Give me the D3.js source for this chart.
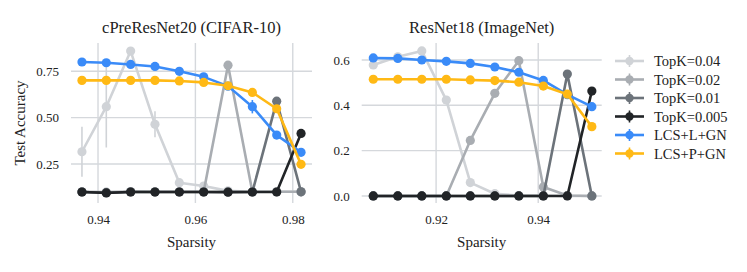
<!DOCTYPE html>
<html>
<head>
<meta charset="utf-8">
<script src="https://cdn.jsdelivr.net/npm/d3@7"></script>
<style>
  body { margin: 0; background: #fff; }
  svg text { font-family: "Liberation Serif", "Times New Roman", "DejaVu Serif", serif; fill: #222; }
</style>
</head>
<body>
<div id="chart"></div>
<script>
var FONT = '"Liberation Serif", "Times New Roman", serif';

// series names + colours
var seriesNames = ["TopK=0.04", "TopK=0.02", "TopK=0.01", "TopK=0.005", "LCS+L+GN", "LCS+P+GN"];
var seriesColors = ["#d0d3d7", "#a9adb2", "#6c737a", "#212427", "#3a8bf8", "#ffb915"];

// left panel: cPreResNet20 (CIFAR-10)
var cifarSparsity = [0.9367, 0.9417, 0.9467, 0.9517, 0.9567, 0.9617, 0.9667, 0.9717, 0.9767, 0.9817];
var cifarValues = [
  [0.316, 0.559, 0.859, 0.464, 0.149, 0.131, 0.105, 0.100, 0.100, 0.100],
  [0.100, 0.098, 0.101, 0.100, 0.100, 0.100, 0.783, 0.100, 0.100, 0.100],
  [0.099, 0.095, 0.099, 0.099, 0.099, 0.099, 0.099, 0.099, 0.589, 0.100],
  [0.099, 0.094, 0.099, 0.099, 0.099, 0.099, 0.098, 0.099, 0.099, 0.415],
  [0.800, 0.796, 0.787, 0.776, 0.750, 0.720, 0.670, 0.559, 0.406, 0.313],
  [0.701, 0.701, 0.701, 0.701, 0.698, 0.690, 0.672, 0.636, 0.548, 0.248]
];
var cifarErrors = [
  [0.135, 0.22, 0.01, 0.07, 0.01, 0, 0, 0, 0, 0],
  [0, 0, 0, 0, 0, 0, 0, 0, 0, 0],
  [0, 0, 0, 0, 0, 0, 0, 0, 0, 0],
  [0, 0, 0, 0, 0, 0, 0, 0, 0, 0],
  [0, 0, 0, 0, 0, 0, 0.01, 0.036, 0.01, 0.01],
  [0, 0, 0, 0, 0, 0, 0, 0.005, 0.01, 0.01]
];
var cifarXTicks = [0.94, 0.96, 0.98];
var cifarYTicks = [0.25, 0.50, 0.75];

// right panel: ResNet18 (ImageNet)
var imagenetSparsity = [0.9077, 0.9125, 0.9172, 0.9220, 0.9267, 0.9315, 0.9362, 0.9410, 0.9457, 0.9505];
var imagenetValues = [
  [0.578, 0.614, 0.640, 0.423, 0.059, 0.010, 0.002, 0.002, 0.000, 0.000],
  [0.000, 0.000, 0.000, 0.000, 0.245, 0.453, 0.597, 0.040, 0.002, 0.000],
  [0.000, 0.000, 0.000, 0.000, 0.000, 0.000, 0.000, 0.000, 0.538, 0.000],
  [0.000, 0.000, 0.000, 0.000, 0.000, 0.000, 0.000, 0.000, 0.000, 0.463],
  [0.609, 0.607, 0.600, 0.594, 0.585, 0.569, 0.546, 0.510, 0.447, 0.394],
  [0.515, 0.515, 0.515, 0.515, 0.512, 0.509, 0.502, 0.485, 0.449, 0.306]
];
var imagenetXTicks = [0.92, 0.94];
var imagenetYTicks = [0.0, 0.2, 0.4, 0.6];

var width = 747, height = 272;

var svg = d3.select("#chart")
  .append("svg")
  .attr("width", width)
  .attr("height", height);

function drawPanel(opts) {
  var xScale = d3.scaleLinear().domain(opts.xDomain).range([opts.left, opts.right]);
  var yScale = d3.scaleLinear().domain(opts.yDomain).range([opts.bottom, opts.top]);
  var g = svg.append("g");

  // grid
  g.selectAll(".vgrid")
    .data(opts.xTicks)
    .enter()
    .append("line")
    .attr("x1", d => xScale(d)).attr("x2", d => xScale(d))
    .attr("y1", opts.top).attr("y2", opts.bottom)
    .attr("stroke", "#d5d8dc").attr("stroke-width", 1.4);

  g.selectAll(".hgrid")
    .data(opts.yTicks)
    .enter()
    .append("line")
    .attr("x1", opts.left).attr("x2", opts.right)
    .attr("y1", d => yScale(d)).attr("y2", d => yScale(d))
    .attr("stroke", "#d5d8dc").attr("stroke-width", 1.4);

  // axes (no domain, no tick marks)
  var xAxis = d3.axisBottom(xScale).tickValues(opts.xTicks).tickSize(0).tickPadding(12)
    .tickFormat(d3.format(".2f"));
  g.append("g")
    .attr("transform", `translate(0,${opts.bottom})`)
    .attr("font-family", FONT)
    .call(xAxis)
    .call(a => a.select(".domain").remove())
    .selectAll("text")
    .attr("font-size", "13px")
    .attr("fill", "#222");

  var yAxis = d3.axisLeft(yScale).tickValues(opts.yTicks).tickSize(0).tickPadding(12)
    .tickFormat(d3.format(opts.yFormat));
  g.append("g")
    .attr("transform", `translate(${opts.left},0)`)
    .attr("font-family", FONT)
    .call(yAxis)
    .call(a => a.select(".domain").remove())
    .selectAll("text")
    .attr("font-size", "13px")
    .attr("fill", "#222");

  // title + x label
  g.append("text")
    .attr("x", (opts.left + opts.right) / 2)
    .attr("y", 33)
    .attr("text-anchor", "middle")
    .attr("font-family", FONT)
    .style("font-size", "16.5px")
    .text(opts.title);

  g.append("text")
    .attr("x", (opts.left + opts.right) / 2)
    .attr("y", 247)
    .attr("text-anchor", "middle")
    .attr("font-family", FONT)
    .style("font-size", "15px")
    .text("Sparsity");

  var line = d3.line()
    .x((d, i) => xScale(opts.xs[i]))
    .y(d => yScale(d));

  opts.values.forEach(function(vals, s) {
    var color = seriesColors[s];
    var errs = opts.errors ? opts.errors[s] : null;
    if (errs) {
      var pts = vals.map((v, i) => ({ x: opts.xs[i], y: v, e: errs[i] })).filter(p => p.e > 0);
      g.selectAll(".err" + s)
        .data(pts)
        .enter()
        .append("line")
        .attr("x1", p => xScale(p.x))
        .attr("x2", p => xScale(p.x))
        .attr("y1", p => yScale(p.y - p.e))
        .attr("y2", p => yScale(p.y + p.e))
        .attr("stroke", color)
        .attr("stroke-width", 1.6);
    }
    g.append("path")
      .datum(vals)
      .attr("d", line)
      .attr("fill", "none")
      .attr("stroke", color)
      .attr("stroke-width", 2.6)
      .attr("stroke-linejoin", "round");
    g.selectAll(".pt" + s)
      .data(vals)
      .enter()
      .append("circle")
      .attr("cx", (d, i) => xScale(opts.xs[i]))
      .attr("cy", d => yScale(d))
      .attr("r", 4.6)
      .attr("fill", color);
  });
}

drawPanel({
  title: "cPreResNet20 (CIFAR-10)",
  left: 71, right: 312, top: 43, bottom: 203,
  xDomain: [0.93445, 0.98395], yDomain: [0.0396, 0.9026],
  xTicks: cifarXTicks, yTicks: cifarYTicks, yFormat: ".2f",
  xs: cifarSparsity, values: cifarValues, errors: cifarErrors
});

drawPanel({
  title: "ResNet18 (ImageNet)",
  left: 361.7, right: 601.7, top: 43, bottom: 203,
  xDomain: [0.90543, 0.95243], yDomain: [-0.031, 0.675],
  xTicks: imagenetXTicks, yTicks: imagenetYTicks, yFormat: ".1f",
  xs: imagenetSparsity, values: imagenetValues, errors: null
});

// y label
svg.append("text")
  .attr("text-anchor", "middle")
  .attr("transform", `translate(25,123) rotate(-90)`)
  .attr("font-family", FONT)
  .style("font-size", "15px")
  .text("Test Accuracy");

// legend
var legend = svg.selectAll(".legend")
  .data(seriesNames)
  .enter()
  .append("g")
  .attr("transform", (d, i) => `translate(615,${61 + i * 18.5})`);

legend.append("line")
  .attr("x1", 0).attr("x2", 29)
  .attr("stroke", (d, i) => seriesColors[i])
  .attr("stroke-width", 2.6);
legend.append("line")
  .attr("x1", 14.5).attr("x2", 14.5).attr("y1", -6).attr("y2", 6)
  .attr("stroke", (d, i) => seriesColors[i])
  .attr("stroke-width", 1.6);
legend.append("circle")
  .attr("cx", 14.5).attr("r", 4.2)
  .attr("fill", (d, i) => seriesColors[i]);
legend.append("text")
  .attr("x", 39).attr("y", 5)
  .attr("font-family", FONT)
  .style("font-size", "14.5px")
  .text(d => d);
</script>
</body>
</html>
